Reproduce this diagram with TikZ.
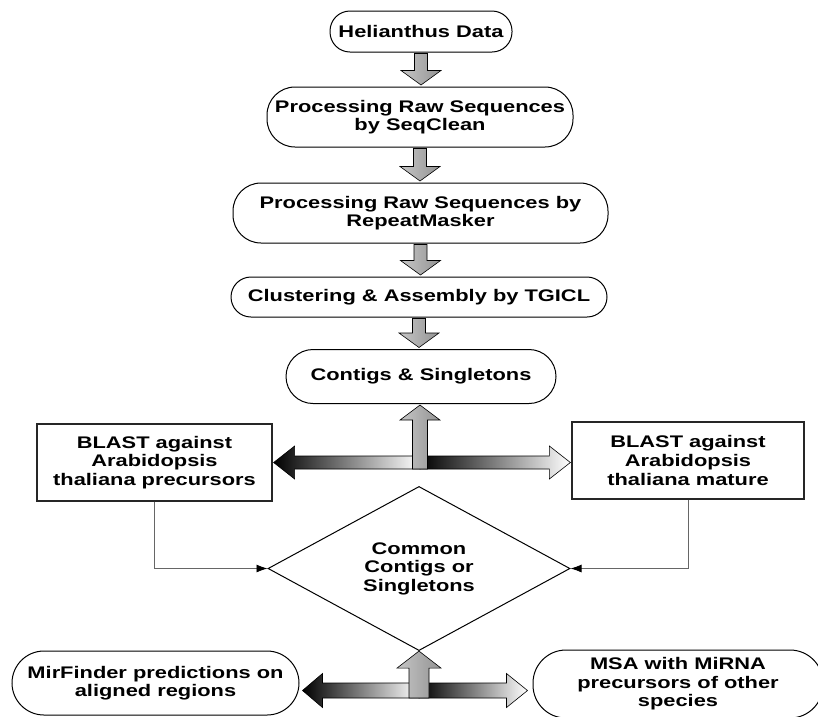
\documentclass[tikz,border=0pt]{standalone}
\usepackage{fontspec}
\setmainfont{Liberation Sans}[FakeStretch=1.3]
\usetikzlibrary{shapes.geometric,arrows.meta,calc}
\newcommand{\blkdown}[2]{%
  \path[blk] let \p1=(#1.south), \p2=(#2.north) in
   (\x1-6.5pt,\y1-1pt) -- (\x1+6.5pt,\y1-1pt) -- (\x1+6.5pt,\y2+16pt) --
   (\x1+20pt,\y2+16pt) -- (\x1,\y2+1.5pt) -- (\x1-20pt,\y2+16pt) --
   (\x1-6.5pt,\y2+16pt) -- cycle;}
\begin{document}
\begin{tikzpicture}[x=1pt,y=-1pt,
  txt/.style={font=\bfseries\fontsize{16.8}{18.6}\selectfont, align=center, inner sep=0pt},
  pill/.style={txt, draw=black, line width=1pt, fill=white, rounded corners=#1},
  sqbox/.style={txt, draw=black!85, line width=1.3pt, fill=white},
  decision/.style={txt, shape=diamond, draw=black, line width=1pt, fill=white},
  blk/.style={draw=black, line width=0.6pt, left color=gray!45, right color=gray!85},
  blkh/.style={draw=black, line width=0.6pt, left color=black, right color=white},
  conn/.style={draw=black!60, line width=0.8pt, -{Latex[length=11pt,width=8pt,color=black]}}
]
\useasboundingbox (0,0) rectangle (818,716);
\clip (0,0) rectangle (818,716);

\node[pill=20pt, minimum width=182pt, minimum height=41pt] (n1) at (421,31.5) {Helianthus Data};
\node[pill=28pt, minimum width=306pt, minimum height=60pt] (n2) at (420,117) {Processing Raw Sequences\\by SeqClean};
\node[pill=28pt, minimum width=375pt, minimum height=60pt] (n3) at (420.5,213) {Processing Raw Sequences by\\RepeatMasker};
\node[pill=20pt, minimum width=376pt, minimum height=40pt] (n4) at (419,297) {Clustering \& Assembly by TGICL};
\node[pill=27pt, minimum width=270pt, minimum height=54pt] (n5) at (421,376.5) {Contigs \& Singletons};
\node[sqbox, minimum width=235pt, minimum height=77pt] (n6) at (154.5,462.5) {BLAST against\\Arabidopsis\\thaliana precursors};
\node[sqbox, minimum width=232pt, minimum height=77pt] (n7) at (688,460.5) {BLAST against\\Arabidopsis\\thaliana mature};
\node[decision, minimum width=302pt, minimum height=123pt] (n8) at (419,568.5) {Common\\Contigs or\\Singletons};
\node[pill=32pt, minimum width=287pt, minimum height=64pt] (n9) at (155.5,683) {MirFinder predictions on\\aligned regions};
\node[pill=33pt, minimum width=290pt, minimum height=68pt] (n10) at (678,684) {MSA with MiRNA\\precursors of other\\species};

% vertical chain
\blkdown{n1}{n2}
\blkdown{n2}{n3}
\blkdown{n3}{n4}
\blkdown{n4}{n5}

% middle junction
\coordinate (j1) at (420,462.5);
\path[blkh] let \p1=(j1), \p2=(n6.east) in
  (\x1,\y1+6.5pt) -- (\x2+22pt,\y1+6.5pt) -- (\x2+22pt,\y1+16.5pt) -- (\x2+1pt,\y1) --
  (\x2+22pt,\y1-16.5pt) -- (\x2+22pt,\y1-6.5pt) -- (\x1,\y1-6.5pt) -- cycle;
\path[blkh] let \p1=(j1), \p2=(n7.west) in
  (\x1,\y1+6.5pt) -- (\x2-22pt,\y1+6.5pt) -- (\x2-22pt,\y1+16.5pt) -- (\x2-1pt,\y1) --
  (\x2-22pt,\y1-16.5pt) -- (\x2-22pt,\y1-6.5pt) -- (\x1,\y1-6.5pt) -- cycle;
\path[blk] let \p1=(j1), \p2=(n5.south) in
  (\x1-7.5pt,\y1-6.5pt) -- (\x1+7.5pt,\y1-6.5pt) -- (\x1+7.5pt,\y2-16pt) -- (\x1+20pt,\y2-16pt) --
  (\x1,\y2-1pt) -- (\x1-20pt,\y2-16pt) -- (\x1-7.5pt,\y2-16pt) -- cycle;

% connectors to decision
\draw[conn] (n6.south) |- (n8.west);
\draw[conn] (n7.south) |- (n8.east);

% bottom junction
\coordinate (j2) at (419,690.5);
\path[blkh] let \p1=(j2), \p2=(n9.east) in
  (\x1,\y1+7.5pt) -- (\x2+23pt,\y1+7.5pt) -- (\x2+23pt,\y1+17pt) -- (\x2+3pt,\y1) --
  (\x2+23pt,\y1-17pt) -- (\x2+23pt,\y1-7.5pt) -- (\x1,\y1-7.5pt) -- cycle;
\path[blkh] let \p1=(j2), \p2=(n10.west) in
  (\x1,\y1+7.5pt) -- (\x2-26pt,\y1+7.5pt) -- (\x2-26pt,\y1+17pt) -- (\x2-5pt,\y1) --
  (\x2-26pt,\y1-17pt) -- (\x2-26pt,\y1-7.5pt) -- (\x1,\y1-7.5pt) -- cycle;
\path[blk] let \p1=(j2), \p2=(n8.south) in
  (\x1-10pt,\y1-7.5pt) -- (\x1+10pt,\y1-7.5pt) -- (\x1+10pt,\y2-17pt) -- (\x1+22pt,\y2-17pt) --
  (\x1,\y2) -- (\x1-22pt,\y2-17pt) -- (\x1-10pt,\y2-17pt) -- cycle;
\end{tikzpicture}
\end{document}
